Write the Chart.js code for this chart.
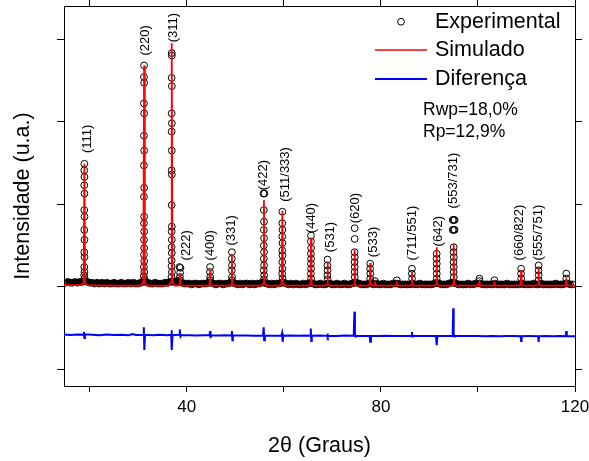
<!DOCTYPE html>
<html lang="pt">
<head>
<meta charset="UTF-8">
<title>Refinamento Rietveld</title>
<script src="https://cdn.jsdelivr.net/npm/chart.js"></script>
<style>
  html, body { margin: 0; padding: 0; background: #fff; }
  #wrap { width: 589px; height: 461px; position: relative; }
</style>
</head>
<body>
<div id="wrap"><canvas id="xrdChart"></canvas></div>
<script>
// fundo experimental: grade 2θ a partir de 15°, passo 0,5°
const bgStart = 15;
const bgStep = 0.5;
const bgInt = [
  0.05,0.06,0.05,0.05,0.06,0.05,0.06,0.06,0.07,0.06,
  0.05,0.05,0.04,0.05,0.04,0.05,0.04,0.05,0.04,0.04,
  0.05,0.04,0.04,0.05,0.04,0.04,0.05,0.04,0.05,0.04,
  0.04,0.05,0.06,0.06,0.05,0.04,0.04,0.05,0.04,0.04,
  0.04,0.05,0.05,0.06,0.06,0.06,0.07,0.06,0.05,0.04,
  0.04,0.04,0.03,0.04,0.04,0.03,0.04,0.04,0.04,0.05,
  0.05,0.04,0.03,0.04,0.04,0.03,0.04,0.04,0.05,0.05,
  0.04,0.03,0.04,0.03,0.04,0.04,0.03,0.04,0.03,0.04,
  0.04,0.05,0.05,0.04,0.03,0.04,0.03,0.04,0.04,0.05,
  0.05,0.04,0.03,0.04,0.03,0.04,0.03,0.03,0.04,0.03,
  0.04,0.05,0.04,0.03,0.03,0.04,0.03,0.03,0.04,0.04,
  0.03,0.03,0.04,0.03,0.03,0.04,0.03,0.03,0.04,0.05,
  0.05,0.04,0.03,0.03,0.03,0.04,0.04,0.03,0.04,0.03,
  0.03,0.04,0.03,0.03,0.03,0.04,0.04,0.04,0.03,0.03,
  0.03,0.03,0.03,0.04,0.03,0.03,0.04,0.03,0.03,0.03,
  0.03,0.03,0.04,0.05,0.04,0.03,0.03,0.03,0.04,0.05,
  0.05,0.04,0.03,0.03,0.03,0.03,0.04,0.03,0.03,0.04,
  0.04,0.04,0.03,0.03,0.03,0.03,0.03,0.04,0.03,0.03,
  0.03,0.03,0.04,0.03,0.03,0.03,0.03,0.03,0.04,0.03,
  0.03,0.03,0.03,0.04,0.03,0.03,0.04,0.03,0.03,0.03,
  0.03,0.03,0.04,0.03,0.03,0.03,0.04,0.04,0.03,0.03
];

// pontos experimentais nos picos (2θ, intensidade)
const expTheta = [
  18.9,18.88,18.92,18.88,18.92,18.88,18.92,18.88,18.92,18.88,18.92,18.88,18.92,18.86,18.94,
  31.2,31.18,31.22,31.18,31.22,31.18,31.22,31.18,31.22,31.18,31.22,31.18,31.22,31.18,31.22,31.18,31.22,31.16,31.24,31.14,31.26,
  36.9,36.92,36.88,36.92,36.88,36.92,36.88,36.92,36.88,36.92,36.88,36.92,36.88,36.92,36.88,36.92,36.88,36.86,36.94,36.84,
  38.5,38.7,38.62,38.58,38.6,
  44.8,44.78,44.82,44.8,
  49.3,49.28,49.32,49.28,49.32,49.3,
  55.8,56.0,55.88,55.92,55.88,55.92,55.88,55.92,55.88,55.92,55.86,55.94,55.9,
  59.7,59.68,59.72,59.68,59.72,59.68,59.72,59.68,59.72,59.66,59.74,
  65.6,65.58,65.62,65.58,65.62,65.58,65.62,65.58,65.62,
  69.0,68.98,69.02,68.98,69.02,
  74.6,74.6,74.58,74.62,74.58,74.62,74.58,74.62,
  77.8,77.78,77.82,77.8,
  78.8,83.3,
  86.4,86.38,86.42,
  91.5,91.48,91.52,91.48,91.52,91.5,
  94.8,95.0,95.2,94.8,95.0,95.2,95.0,94.98,95.02,94.98,95.02,94.98,95.02,
  100.3,100.3,103.4,
  108.9,108.88,108.92,
  112.5,112.48,112.52,112.5,
  118.2,118.2
];
const expInt = [
  1.49,1.41,1.33,1.23,1.13,0.93,0.85,0.69,0.57,0.42,0.36,0.24,0.18,0.14,0.10,
  2.68,2.54,2.47,2.22,2.10,1.83,1.65,1.47,1.20,1.09,0.85,0.77,0.67,0.57,0.47,0.39,0.31,0.24,0.18,0.13,0.09,
  2.83,2.80,2.53,2.43,2.10,1.98,1.88,1.65,1.41,1.36,0.99,0.73,0.67,0.57,0.48,0.41,0.32,0.25,0.18,0.12,
  0.24,0.23,0.17,0.12,0.08,
  0.24,0.18,0.12,0.08,
  0.42,0.34,0.26,0.20,0.12,0.08,
  1.13,1.13,0.93,0.79,0.69,0.59,0.50,0.42,0.34,0.26,0.20,0.14,0.09,
  0.91,0.77,0.69,0.61,0.53,0.44,0.38,0.30,0.22,0.16,0.10,
  0.62,0.55,0.47,0.40,0.34,0.28,0.22,0.16,0.10,
  0.33,0.26,0.20,0.14,0.09,
  0.71,0.58,0.42,0.36,0.30,0.24,0.18,0.12,
  0.28,0.22,0.16,0.10,
  0.07,0.08,
  0.22,0.16,0.10,
  0.40,0.34,0.28,0.22,0.16,0.10,
  0.81,0.81,0.81,0.69,0.69,0.69,0.48,0.42,0.36,0.30,0.24,0.18,0.12,
  0.10,0.07,0.08,
  0.22,0.16,0.10,
  0.26,0.20,0.14,0.08,
  0.16,0.10
];

// perfil simulado (Rietveld)
const simTheta = [
  14.7,
  18.3,18.75,18.9,19.05,19.5,
  25,
  30.6,31.05,31.2,31.35,31.8,
  36.3,36.75,36.9,37.05,37.5,
  38.2,38.5,38.6,38.7,39.0,
  44.4,44.7,44.8,44.9,45.2,
  48.9,49.2,49.3,49.4,49.7,
  55.4,55.75,55.9,56.05,56.4,
  59.2,59.55,59.7,59.85,60.2,
  65.1,65.5,65.6,65.7,66.1,
  68.6,68.9,69.0,69.1,69.4,
  74.2,74.5,74.6,74.7,75.0,
  77.4,77.7,77.8,77.9,78.3,
  78.6,78.8,79.0,
  83.1,83.3,83.5,
  86.0,86.3,86.4,86.5,86.8,
  91.1,91.4,91.5,91.6,91.9,
  94.6,94.9,95.0,95.1,95.4,
  100.1,100.3,100.5,
  103.2,103.4,103.6,
  108.5,108.8,108.9,109.0,109.3,
  112.1,112.4,112.5,112.6,112.9,
  118.0,118.2,118.4,
  120
];
const simInt = [
  0.02,
  0.02,0.05,1.49,0.05,0.02,
  0.015,
  0.015,0.06,2.68,0.06,0.015,
  0.015,0.06,2.95,0.06,0.015,
  0.015,0.03,0.16,0.03,0.015,
  0.015,0.03,0.20,0.03,0.015,
  0.015,0.03,0.40,0.03,0.015,
  0.015,0.04,1.05,0.04,0.015,
  0.015,0.04,0.92,0.04,0.015,
  0.015,0.03,0.59,0.03,0.015,
  0.015,0.03,0.30,0.03,0.015,
  0.015,0.03,0.45,0.03,0.015,
  0.015,0.03,0.29,0.03,0.015,
  0.015,0.05,0.015,
  0.015,0.05,0.015,
  0.015,0.03,0.18,0.03,0.015,
  0.015,0.03,0.48,0.03,0.015,
  0.015,0.03,0.52,0.03,0.015,
  0.015,0.06,0.015,
  0.015,0.05,0.015,
  0.015,0.03,0.20,0.03,0.015,
  0.015,0.03,0.24,0.03,0.015,
  0.015,0.08,0.015,
  0.015
];

// diferença (exp - calc), deslocada para baixo
const difTheta = [
  14.7,16,17.5,18.7,18.8,18.9,19.0,20.5,22,23.5,25,26.5,28,28.8,29.5,
  31.0,31.15,31.25,31.4,33,34.5,36,36.8,36.85,36.95,37.05,38.4,38.55,38.7,38.85,
  40.5,42,43.5,44.7,44.8,44.9,45.0,46.5,48,49.2,49.3,49.4,49.5,51,52.5,54,
  55.7,55.85,55.95,56.1,57.5,59.5,59.65,59.75,59.9,61.5,63,64.5,
  65.5,65.55,65.65,65.75,67.5,68.9,69.0,69.1,69.2,71,72.5,
  74.4,74.55,74.65,74.75,74.85,76.3,77.7,77.8,77.95,79.5,81,82.5,84,
  86.3,86.4,86.5,86.6,88,89.5,91.35,91.5,91.65,93,
  94.8,94.9,95.0,95.1,95.2,97,98.5,100,101.5,103,104.5,106,107.5,
  108.8,108.9,109.0,110.5,112.4,112.5,112.6,114,115.5,117,118.1,118.2,118.3,120
];
const difInt = [
  -0.578,-0.582,-0.576,-0.58,-0.545,-0.62,-0.575,-0.58,-0.585,-0.578,-0.582,-0.58,-0.585,-0.57,-0.582,
  -0.58,-0.49,-0.765,-0.58,-0.585,-0.58,-0.585,-0.58,-0.525,-0.765,-0.585,-0.58,-0.515,-0.60,-0.585,
  -0.585,-0.59,-0.585,-0.585,-0.535,-0.62,-0.588,-0.59,-0.585,-0.59,-0.535,-0.645,-0.59,-0.59,-0.588,-0.592,
  -0.59,-0.49,-0.645,-0.59,-0.592,-0.59,-0.56,-0.665,-0.592,-0.59,-0.593,-0.59,
  -0.592,-0.505,-0.655,-0.592,-0.59,-0.593,-0.565,-0.61,-0.592,-0.594,-0.59,
  -0.592,-0.30,-0.56,-0.60,-0.592,-0.594,-0.594,-0.665,-0.595,-0.595,-0.592,-0.596,-0.594,
  -0.594,-0.545,-0.60,-0.595,-0.595,-0.594,-0.595,-0.705,-0.595,-0.596,
  -0.595,-0.26,-0.56,-0.60,-0.596,-0.596,-0.594,-0.596,-0.597,-0.595,-0.597,-0.596,-0.595,
  -0.597,-0.655,-0.597,-0.596,-0.597,-0.665,-0.597,-0.596,-0.597,-0.596,-0.597,-0.535,-0.597,-0.597
];

// índices de Miller: texto, posição 2θ e base do rótulo
const hklText = ['(111)','(220)','(311)','(222)','(400)','(331)','(422)','(511/333)','(440)',
  '(531)','(620)','(533)','(711/551)','(642)','(553/731)','(660/822)','(555/751)'];
const hklTheta = [19.5,31.5,37.2,40.0,44.8,49.3,55.8,60.3,65.6,69.5,74.7,78.5,86.6,91.8,95.0,108.6,112.4];
const hklBase = [1.62,2.80,2.96,0.32,0.32,0.50,1.17,1.03,0.65,0.42,0.77,0.36,0.32,0.49,0.95,0.32,0.32];

const legendNames = ['Experimental', 'Simulado', 'Diferença'];
const rFactors = ['Rwp=18,0%', 'Rp=12,9%'];

const FONT = '"Liberation Sans", Arial, sans-serif';
Chart.defaults.font.family = FONT;
Chart.defaults.color = '#000';

const bgPoints = bgInt.map((v, i) => ({ x: bgStart + i * bgStep, y: v }));
const expPoints = expTheta.map((t, i) => ({ x: t, y: expInt[i] }));
const simPoints = simTheta.map((t, i) => ({ x: t, y: simInt[i] }));
const difPoints = difTheta.map((t, i) => ({ x: t, y: difInt[i] }));

// rótulos dos picos, legenda e fatores R
const decor = {
  id: 'decor',
  afterDatasetsDraw(chart) {
    const { ctx, chartArea: a, scales: { x, y } } = chart;
    ctx.save();
    ctx.fillStyle = '#000';

    ctx.font = '13px ' + FONT;
    ctx.textAlign = 'left';
    ctx.textBaseline = 'middle';
    hklText.forEach((t, i) => {
      ctx.save();
      ctx.translate(x.getPixelForValue(hklTheta[i]), y.getPixelForValue(hklBase[i]));
      ctx.rotate(-Math.PI / 2);
      ctx.fillText(t, 0, 0);
      ctx.restore();
    });

    // legenda
    const symX = a.right - 174;
    const textX = a.right - 140;
    const rows = [a.top + 15.7, a.top + 44, a.top + 73];
    ctx.lineWidth = 1;
    ctx.strokeStyle = '#000';
    ctx.beginPath();
    ctx.arc(symX, rows[0], 3.4, 0, Math.PI * 2);
    ctx.stroke();
    ctx.lineWidth = 1.5;
    ctx.strokeStyle = '#ff0000';
    ctx.beginPath(); ctx.moveTo(symX - 26, rows[1]); ctx.lineTo(symX + 26, rows[1]); ctx.stroke();
    ctx.lineWidth = 2;
    ctx.strokeStyle = '#0000ff';
    ctx.beginPath(); ctx.moveTo(symX - 26, rows[2]); ctx.lineTo(symX + 26, rows[2]); ctx.stroke();
    ctx.font = '21.5px ' + FONT;
    legendNames.forEach((n, i) => ctx.fillText(n, textX, rows[i]));

    ctx.font = '17.5px ' + FONT;
    ctx.fillText(rFactors[0], a.right - 152, a.top + 104);
    ctx.fillText(rFactors[1], a.right - 152, a.top + 125.7);
    ctx.restore();
  }
};

function intTicks(s) {
  s.ticks = s.ticks.filter(t => Math.abs(t.value - Math.round(t.value)) < 1e-6);
}

const axisX = (pos) => ({
  type: 'linear', position: pos, min: 14.7, max: 120,
  grid: { drawOnChartArea: false, tickLength: 6, color: '#000' },
  border: { display: true, color: '#000', width: 1 },
});
const axisY = (pos) => ({
  type: 'linear', position: pos, min: -1.2, max: 3.4,
  afterBuildTicks: intTicks,
  ticks: { display: false, stepSize: 1, includeBounds: false },
  grid: { drawOnChartArea: false, tickLength: 7, color: '#000' },
  border: { display: true, color: '#000', width: 1 },
});

const xMain = axisX('bottom');
xMain.ticks = {
  stepSize: 20, includeBounds: false, maxRotation: 0, autoSkip: false,
  font: { size: 17 }, padding: 5,
  callback: v => (v % 40 === 0 ? v : '')
};
xMain.title = { display: true, text: '2θ (Graus)', font: { size: 21.5 }, padding: { top: 0, bottom: 2 } };
xMain.afterFit = s => { s.height = 75; s.paddingLeft = 0; s.paddingRight = 14; };

const xTop = axisX('top');
xTop.ticks = { display: false, stepSize: 20, includeBounds: false };

const yMain = axisY('left');
yMain.title = { display: true, text: 'Intensidade (u.a.)', font: { size: 21.5 }, padding: { top: 10, bottom: 0 } };
yMain.afterFit = s => { s.width = 64; };

const yRight = axisY('right');

const ring = { pointStyle: 'circle', pointRadius: 3.4, borderColor: '#000', borderWidth: 1,
  backgroundColor: 'rgba(0,0,0,0)' };

new Chart(document.getElementById('xrdChart'), {
  type: 'scatter',
  data: {
    datasets: [
      { label: 'Simulado', data: simPoints, showLine: true, borderColor: '#ff0000', borderWidth: 1.8,
        pointRadius: 0, tension: 0, fill: false },
      { label: 'Diferença', data: difPoints, showLine: true, borderColor: '#0000ff', borderWidth: 2,
        pointRadius: 0, tension: 0, fill: false },
      Object.assign({ label: 'Experimental', data: expPoints }, ring),
      Object.assign({ label: 'Experimental (fundo)', data: bgPoints }, ring),
      // núcleo denso do fundo: os círculos se sobrepõem numa faixa preta
      { label: 'fundo', data: bgPoints, showLine: true, borderColor: '#000', borderWidth: 5.5,
        pointRadius: 0, tension: 0, fill: false }
    ]
  },
  options: {
    responsive: true,
    maintainAspectRatio: false,
    animation: false,
    events: [],
    layout: { padding: 0 },
    scales: { x: xMain, x2: xTop, y: yMain, y2: yRight },
    plugins: { legend: { display: false }, tooltip: { enabled: false } }
  },
  plugins: [decor]
});
</script>
</body>
</html>
